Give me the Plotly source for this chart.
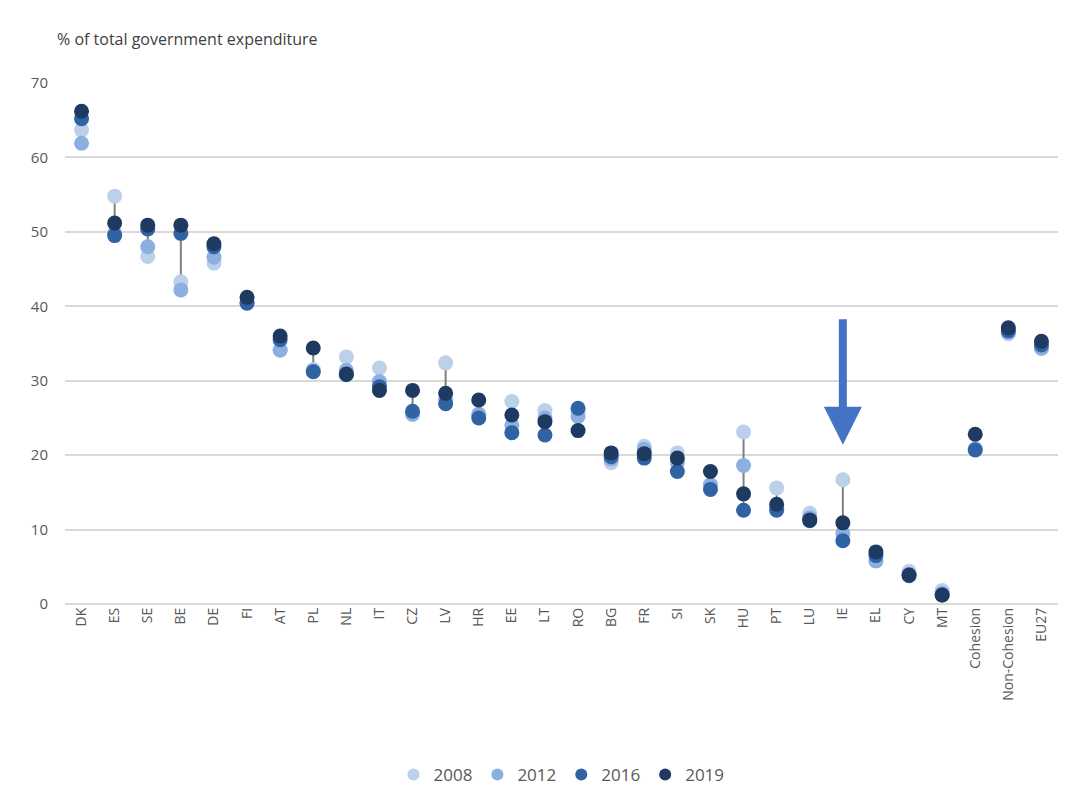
import plotly.graph_objects as go

categories = ["DK", "ES", "SE", "BE", "DE", "FI", "AT", "PL", "NL", "IT", "CZ", "LV", "HR", "EE", "LT",
              "RO", "BG", "FR", "SI", "SK", "HU", "PT", "LU", "IE", "EL", "CY", "MT",
              "Cohesion", "Non-Cohesion", "EU27"]

v2008 = [63.7, 54.8, 46.7, 43.3, 45.8, 40.6, 34.2, 31.5, 33.2, 31.7, 25.5, 32.4, 25.5, 27.2, 26.0,
         25.8, 19.0, 21.2, 20.3, 16.0, 23.1, 15.6, 12.2, 16.7, 5.8, 4.4, 1.8, 20.9, 36.3, 34.3]
v2012 = [61.9, 49.8, 48.0, 42.2, 46.6, 40.5, 34.1, 31.3, 31.4, 29.9, 25.5, 27.5, 25.5, 24.0, 25.0,
         25.2, 19.5, 20.8, 19.0, 16.0, 18.6, 13.0, 11.6, 9.5, 5.8, 4.0, 1.4, 20.8, 36.5, 34.4]
v2016 = [65.2, 49.5, 50.4, 49.8, 48.0, 40.4, 35.5, 31.2, 30.8, 29.2, 25.9, 26.9, 25.0, 23.0, 22.7,
         26.3, 19.8, 19.6, 17.8, 15.4, 12.6, 12.6, 11.2, 8.5, 6.5, 3.8, 1.2, 20.7, 36.7, 34.8]
v2019 = [66.2, 51.2, 50.9, 50.9, 48.4, 41.2, 36.0, 34.4, 30.9, 28.7, 28.7, 28.3, 27.4, 25.4, 24.5,
         23.3, 20.3, 20.2, 19.6, 17.8, 14.8, 13.4, 11.3, 10.9, 7.0, 3.9, 1.2, 22.8, 37.1, 35.3]

years = ["2008", "2012", "2016", "2019"]
series = [v2008, v2012, v2016, v2019]
colors = ["#bcd0ea", "#8dafe0", "#2f63a3", "#1e3a60"]

fig = go.Figure()

# high-low range lines
lx, ly = [], []
for i, c in enumerate(categories):
    vals = [s[i] for s in series]
    lx += [c, c, None]
    ly += [min(vals), max(vals), None]
fig.add_trace(go.Scatter(x=lx, y=ly, mode="lines", line=dict(color="#7f7f7f", width=2),
                         showlegend=False, hoverinfo="skip"))

for yr, vals, col in zip(years, series, colors):
    fig.add_trace(go.Scatter(x=categories, y=vals, mode="markers", name=yr,
                             marker=dict(color=col, size=15, line=dict(width=0))))

fig.add_annotation(x="IE", y=21.4, xref="x", yref="y", ax=0, ay=-127, axref="pixel", ayref="pixel",
                   text="", showarrow=True, arrowhead=2, arrowsize=0.95, arrowwidth=8,
                   arrowcolor="#4472c4")

fig.add_annotation(x=-0.01, y=1.085, xref="paper", yref="paper", xanchor="left", yanchor="middle",
                   text="% of total government expenditure", showarrow=False,
                   font=dict(size=16, color="#404040"))

fig.update_layout(
    width=1074, height=808,
    margin=dict(l=65, r=16, t=83, b=204),
    paper_bgcolor="white", plot_bgcolor="white",
    font=dict(family="Open Sans", size=14, color="#595959"),
    showlegend=True,
    legend=dict(orientation="h", x=0.5, xanchor="center", y=-0.328, yanchor="middle",
                font=dict(size=17, color="#595959"), itemsizing="constant"),
    xaxis=dict(type="category", categoryorder="array", categoryarray=categories,
               range=[-0.5, len(categories) - 0.5], tickangle=-90, showgrid=False,
               showline=False, ticks="", tickfont=dict(size=14, color="#595959")),
    yaxis=dict(range=[0, 70], dtick=10, showgrid=True, gridcolor="#d9d9d9", gridwidth=2,
               zeroline=True, zerolinecolor="#d9d9d9", zerolinewidth=2, showline=False,
               ticks="", tickfont=dict(size=15, color="#595959"), ticklabelstandoff=16),
)

fig.write_html("out.html")
